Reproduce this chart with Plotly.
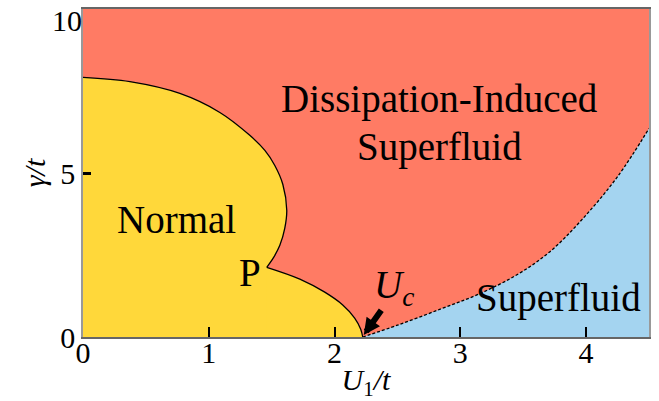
import plotly.graph_objects as go

# Phase boundaries
upper_x = [0.0, 0.373, 0.77, 1.088, 1.326, 1.446, 1.525, 1.589, 1.62, 1.604, 1.565, 1.517, 1.461]
upper_y = [7.93, 7.80, 7.44, 6.86, 6.16, 5.70, 5.24, 4.66, 3.87, 3.32, 2.80, 2.44, 2.13]

lower_x = [1.461, 1.724, 1.922, 2.065, 2.16, 2.208, 2.224]
lower_y = [2.13, 1.77, 1.37, 0.98, 0.58, 0.24, 0.0]

dash_x = [2.224, 2.5, 2.84, 3.14, 3.45, 3.71, 3.97, 4.25, 4.5]
dash_y = [0.0, 0.36, 0.85, 1.30, 1.90, 2.60, 3.60, 4.90, 6.37]

x_ticks = [0, 1, 2, 3, 4]
y_ticks = [0, 5, 10]
y_tick_labels = ["0", "5", "10"]

RED = "#FF7B64"
YELLOW = "#FFD83A"
BLUE = "#A4D4F0"
FONT = "Liberation Serif, Times New Roman, DejaVu Serif, serif"

fig = go.Figure()

# full Normal region underlay (hides the seam between the two arcs)
fig.add_trace(go.Scatter(x=upper_x + lower_x, y=upper_y + lower_y, mode="lines",
                         line=dict(width=0, shape="spline"), fill="tozeroy", fillcolor=YELLOW,
                         hoverinfo="skip", showlegend=False))
fig.add_trace(go.Scatter(x=dash_x, y=dash_y, mode="lines",
                         line=dict(color="black", width=1.3, dash="3px,2px", shape="spline"),
                         fill="tozeroy", fillcolor=BLUE, hoverinfo="skip", showlegend=False))
fig.add_trace(go.Scatter(x=upper_x, y=upper_y, mode="lines", line=dict(color="black", width=1.3, shape="spline"),
                         fill="tozeroy", fillcolor=YELLOW, hoverinfo="skip", showlegend=False))
fig.add_trace(go.Scatter(x=lower_x, y=lower_y, mode="lines", line=dict(color="black", width=1.3, shape="spline"),
                         fill="tozeroy", fillcolor=YELLOW, hoverinfo="skip", showlegend=False))
# placeholder so the secondary y axis (top tick label) is drawn
fig.add_trace(go.Scatter(x=[None], y=[None], yaxis="y2", mode="lines", hoverinfo="skip", showlegend=False))

ann_font = dict(family=FONT, size=39, color="black")
labels = [
    ("Dissipation-Induced", 2.835, 7.26),
    ("Superfluid", 2.835, 5.79),
    ("Normal", 0.74, 3.6),
    ("P", 1.33, 1.98),
    ("<i>U</i><sub><i>c</i></sub>", 2.47, 1.5),
    ("Superfluid", 3.78, 1.19),
]
for txt, xx, yy in labels:
    fig.add_annotation(x=xx, y=yy, text=txt, showarrow=False, font=ann_font,
                       xanchor="center", yanchor="middle")

# arrow pointing to U_c
fig.add_annotation(x=2.232, y=0.06, ax=2.38, ay=0.86, xref="x", yref="y", axref="x", ayref="y",
                   text="", showarrow=True, arrowhead=2, arrowsize=0.55, arrowwidth=6, arrowcolor="black")

y_range = [0, 10.02]
tick_font = dict(family=FONT, size=30, color="black")
fig.update_xaxes(range=[0, 4.5], tickvals=x_ticks, ticks="inside", ticklen=10, tickwidth=1.5, tickcolor="black",
                 showline=True, linecolor="#666", linewidth=1.5, mirror=True, showgrid=False, zeroline=False,
                 ticklabeloverflow="allow", automargin=False, ticklabelstandoff=-12,
                 tickfont=tick_font,
                 title=dict(text="<i>U</i><sub>1</sub><i>/t</i>", font=dict(family=FONT, size=30, color="black"), standoff=2))
fig.update_layout(
    yaxis=dict(range=y_range, tickvals=y_ticks, ticktext=y_tick_labels[:2] + [""],
               ticks="inside", ticklen=8, tickwidth=2.5, tickcolor="black",
               showline=True, linecolor="#999", linewidth=1.5, mirror=True, showgrid=False, zeroline=False,
               ticklabeloverflow="allow", automargin=False, tickfont=tick_font,
               title=dict(text="<i>γ/t</i>", font=dict(family=FONT, size=30, color="black"), standoff=6)),
    yaxis2=dict(range=y_range, tickvals=y_ticks[2:], ticktext=y_tick_labels[2:], overlaying="y", side="left",
                anchor="x", ticks="", showline=False, showgrid=False, zeroline=False,
                ticklabelshift=11, ticklabeloverflow="allow", automargin=False, tickfont=tick_font),
)

fig.update_layout(width=659, height=401, margin=dict(l=83, r=10, t=9, b=64),
                  plot_bgcolor=RED, paper_bgcolor="white")

fig.write_html("out.html")
